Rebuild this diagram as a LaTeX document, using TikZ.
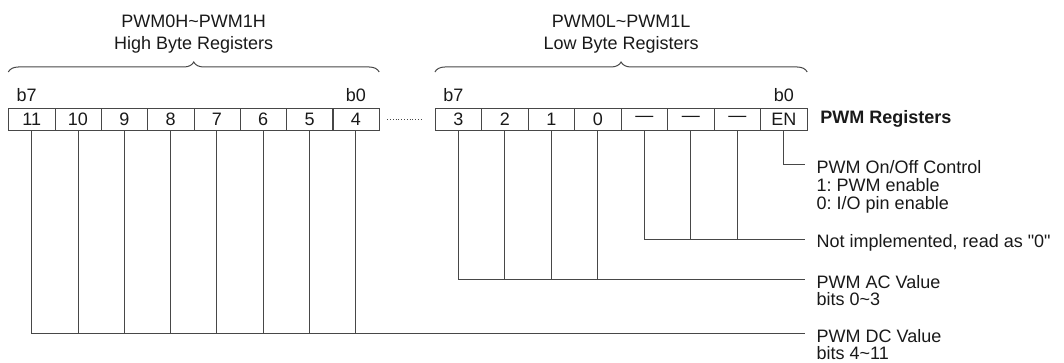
\documentclass[tikz,border=0pt]{standalone}
\usepackage{fontspec}
\setmainfont{Liberation Sans}
\usetikzlibrary{positioning,decorations.pathreplacing}
\frenchspacing

\colorlet{wirecol}{black!72}
\colorlet{textcol}{black!90}

\tikzset{
  cell/.style={draw=wirecol, rectangle, minimum width=46.4pt,
    minimum height=22pt, inner sep=0pt, text=textcol},
  bitlbl/.style={inner sep=0pt, text=textcol},
  wire/.style={draw=wirecol, line width=1pt},
  note/.style={anchor=north west, align=left, inner sep=0pt, text=textcol,
    font=\fontsize{18}{17.7}\selectfont},
  title/.style={align=center, inner sep=0pt, text=textcol,
    font=\fontsize{18}{21.7}\selectfont},
  bytebrace/.style={wire, decorate, decoration={brace, amplitude=10pt}}
}

\begin{document}
\begin{tikzpicture}[x=1pt,y=-1pt,font=\fontsize{18}{21.7}\selectfont]
  \useasboundingbox (0,0) rectangle (1064,363);

  % high byte cells
  \begin{scope}[every node/.style={cell}]
    \node (hb7) at (31.7,119)  {11};
    \node (hb6) at (78.0,119)  {10};
    \node (hb5) at (124.3,119) {9};
    \node (hb4) at (170.6,119) {8};
    \node (hb3) at (216.9,119) {7};
    \node (hb2) at (263.2,119) {6};
    \node (hb1) at (309.5,119) {5};
    \node (hb0) at (355.8,119) {4};
  \end{scope}

  % low byte cells
  \begin{scope}[every node/.style={cell}]
    \node (lb7) at (458.3,119) {3};
    \node (lb6) at (504.8,119) {2};
    \node (lb5) at (551.3,119) {1};
    \node (lb4) at (597.8,119) {0};
    \node (lb3) at (644.3,119) {---};
    \node (lb2) at (690.8,119) {---};
    \node (lb1) at (737.3,119) {---};
    \node (lb0) at (783.8,119) {EN};
  \end{scope}

  \draw[wirecol, line width=0.7pt, dash pattern=on 0.8pt off 2pt]
    ([xshift=8pt]hb0.east) -- ([xshift=-13pt]lb7.west);

  \node[anchor=west, inner sep=0pt, text=textcol, font=\fontsize{18}{21.7}\bfseries]
    (preg) at ([xshift=13pt]lb0.east) {PWM Registers};

  % bit labels
  \begin{scope}[every node/.style={bitlbl}]
    \node[above=5.5pt of hb7, xshift=-5pt] (hb7lbl) {b7};
    \node[above=5.5pt of hb0] (hb0lbl) {b0};
    \node[above=5.5pt of lb7, xshift=-5pt] (lb7lbl) {b7};
    \node[above=5.5pt of lb0] (lb0lbl) {b0};
  \end{scope}

  % braces and titles
  \draw[bytebrace] (hb7.north west |- 0,72) -- (hb0.north east |- 0,72);
  \draw[bytebrace] (lb7.north west |- 0,72) -- (lb0.north east |- 0,72);
  \coordinate (htip) at (193.7,62);
  \coordinate (ltip) at (621.1,62);
  \node[title, above=9pt of htip] (htitle) {PWM0H\textasciitilde PWM1H\\High Byte Registers};
  \node[title, above=9pt of ltip] (ltitle) {PWM0L\textasciitilde PWM1L\\Low Byte Registers};

  % line ends
  \coordinate (enc) at (805,165);
  \coordinate (nic) at (805,239);
  \coordinate (acc) at (805,279.5);
  \coordinate (dcc) at (805,333.5);

  \draw[wire] (lb0.south) |- (enc);

  \draw[wire] (lb3.south) |- (nic);
  \draw[wire] (lb2.south) -- (lb2.south |- nic);
  \draw[wire] (lb1.south) -- (lb1.south |- nic);

  \draw[wire] (lb7.south) |- (acc);
  \draw[wire] (lb6.south) -- (lb6.south |- acc);
  \draw[wire] (lb5.south) -- (lb5.south |- acc);
  \draw[wire] (lb4.south) -- (lb4.south |- acc);

  \draw[wire] (hb7.south) |- (dcc);
  \draw[wire] (hb6.south) -- (hb6.south |- dcc);
  \draw[wire] (hb5.south) -- (hb5.south |- dcc);
  \draw[wire] (hb4.south) -- (hb4.south |- dcc);
  \draw[wire] (hb3.south) -- (hb3.south |- dcc);
  \draw[wire] (hb2.south) -- (hb2.south |- dcc);
  \draw[wire] (hb1.south) -- (hb1.south |- dcc);
  \draw[wire] (hb0.south) -- (hb0.south |- dcc);

  % notes
  \node[note] (onoff) at ([xshift=11.5pt, yshift=4.5pt]enc) {PWM On/Off Control\\1: PWM enable\\0: I/O pin enable};
  \node[note] (unimp) at ([xshift=11.5pt, yshift=4.5pt]nic) {Not implemented, read as \textquotedbl0\textquotedbl};
  \node[note] (acval) at ([xshift=11.5pt, yshift=4.5pt]acc) {PWM AC Value\\bits 0\textasciitilde 3};
  \node[note] (dcval) at ([xshift=11.5pt, yshift=4.5pt]dcc) {PWM DC Value\\bits 4\textasciitilde 11};

\end{tikzpicture}
\end{document}
